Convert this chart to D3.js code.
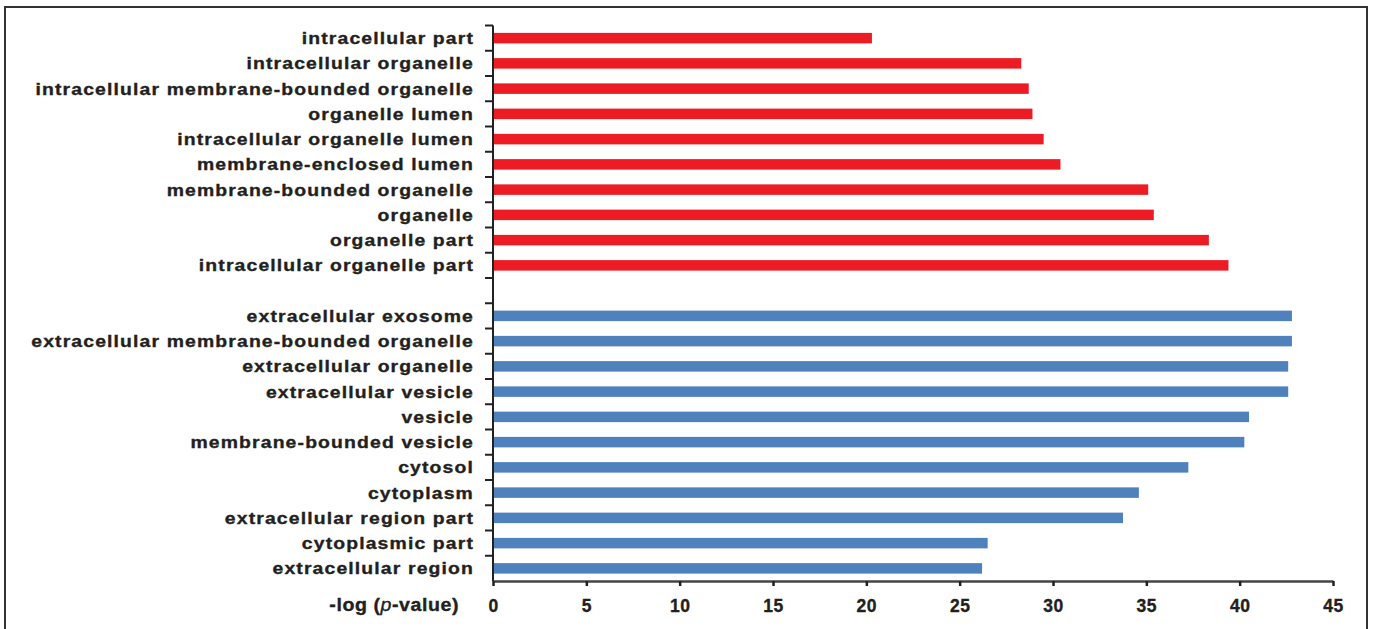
<!DOCTYPE html>
<html><head><meta charset="utf-8">
<script src="https://cdn.jsdelivr.net/npm/d3@7"></script>
<style>
html,body{margin:0;padding:0;background:#fff;}
svg{display:block;}
text{font-family:"Liberation Sans",Arial,sans-serif;font-weight:bold;fill:#231f20;stroke:#231f20;stroke-width:0.35px;}
</style></head>
<body>
<svg id="chart" width="1375" height="629"></svg>
<script>
// Data (top to bottom)
const redCategories = ["intracellular part","intracellular organelle","intracellular membrane-bounded organelle","organelle lumen","intracellular organelle lumen","membrane-enclosed lumen","membrane-bounded organelle","organelle","organelle part","intracellular organelle part"];
const redValues = [20.3, 28.3, 28.7, 28.9, 29.5, 30.4, 35.1, 35.4, 38.35, 39.4];
const blueCategories = ["extracellular exosome","extracellular membrane-bounded organelle","extracellular organelle","extracellular vesicle","vesicle","membrane-bounded vesicle","cytosol","cytoplasm","extracellular region part","cytoplasmic part","extracellular region"];
const blueValues = [42.8, 42.8, 42.6, 42.6, 40.5, 40.25, 37.25, 34.6, 33.75, 26.5, 26.2];
const xTicks = [0,5,10,15,20,25,30,35,40,45];
const xLabel = "-log (";
const xLabelItalic = "p";
const xLabelEnd = "-value)";

const rows = [];
redCategories.forEach((c,i)=>rows.push({key:"r"+i,label:c,value:redValues[i],color:"#ed1c24"}));
rows.push({key:"gap",label:"",value:null});
blueCategories.forEach((c,i)=>rows.push({key:"b"+i,label:c,value:blueValues[i],color:"#4f81bd"}));

const svg = d3.select("#chart");
// frame
svg.append("path").attr("d","M5,640 L5,7 L1367,7 L1367,640").attr("fill","none").attr("stroke","#333").attr("stroke-width",2);

const x = d3.scaleLinear().domain([0,45]).range([493,1333]);
const y = d3.scaleBand().domain(rows.map(r=>r.key)).range([25.5,581]).paddingInner(0).paddingOuter(0);
const barH = 10.5;

svg.append("g").selectAll("rect").data(rows.filter(r=>r.value!==null)).join("rect")
  .attr("x",x(0)).attr("y",d=>y(d.key)+y.bandwidth()/2-barH/2)
  .attr("width",d=>x(d.value)-x(0)).attr("height",barH).attr("fill",d=>d.color);

// y axis line + ticks at band boundaries
const yAxisG = svg.append("g").attr("stroke","#222").attr("stroke-width",2);
yAxisG.append("line").attr("x1",x(0)).attr("x2",x(0)).attr("y1",y.range()[0]).attr("y2",581);
const bounds = rows.map(r=>y(r.key));
yAxisG.selectAll("line.t").data(bounds).join("line").attr("class","t")
  .attr("x1",x(0)-8).attr("x2",x(0)).attr("y1",d=>d).attr("y2",d=>d);

// labels (wide bold face, stretched horizontally)
const labG = svg.append("g").attr("transform","translate(474,0) scale(1.14,1)");
labG.selectAll("text").data(rows.filter(r=>r.label)).join("text")
  .attr("x",0).attr("y",d=>y(d.key)+y.bandwidth()/2).attr("dy","0.36em")
  .attr("text-anchor","end").attr("font-size",17).attr("letter-spacing","1px").text(d=>d.label);

// x axis
const xAxis = d3.axisBottom(x).tickValues(xTicks).tickSize(5).tickSizeOuter(0).tickPadding(14).tickFormat(d3.format("d"));
const xg = svg.append("g").attr("transform","translate(0,581)").call(xAxis);
xg.select(".domain").attr("stroke","#444").attr("stroke-width",2.5);
xg.selectAll(".tick line").attr("stroke","#222").attr("stroke-width",2.5);
xg.selectAll(".tick text").attr("font-size",17.5).attr("font-family","Liberation Sans, Arial, sans-serif").attr("font-weight","bold").attr("fill","#231f20").attr("stroke","#231f20").attr("stroke-width",0.35).attr("letter-spacing","0.5px");

const xlG = svg.append("g").attr("transform","translate(459,0) scale(1.12,1)");
const xl = xlG.append("text").attr("x",0).attr("y",611).attr("text-anchor","end").attr("font-size",17.5).attr("letter-spacing","0.5px");
xl.append("tspan").text(xLabel);
xl.append("tspan").attr("font-style","italic").attr("font-weight","normal").text(xLabelItalic);
xl.append("tspan").text(xLabelEnd);
</script>
</body></html>
